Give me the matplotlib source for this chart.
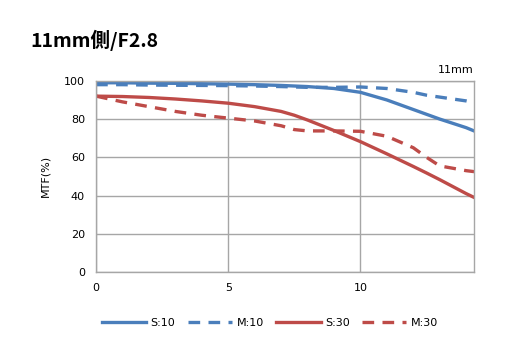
import matplotlib.pyplot as plt

plt.rcParams['font.family'] = ['DejaVu Sans']

# image height (mm) vs MTF (%)
x_pts = [0, 1, 2, 3, 4, 5, 6, 7, 7.5, 8, 9, 10, 11, 12, 12.5, 13, 14, 14.3]
s10 = [99, 99, 98.8, 98.7, 98.5, 98.3, 98, 97.6, 97.3, 97, 96, 94, 90, 85, 82.5, 80, 75.5, 73.8]
m10 = [98, 98, 97.8, 97.7, 97.6, 97.5, 97.3, 97, 96.8, 96.6, 96.6, 96.8, 96, 94, 92.5, 91.5, 89.5, 88.6]
s30 = [92, 91.8, 91.3, 90.5, 89.5, 88.3, 86.5, 84, 82, 79.5, 74, 68.2, 61.8, 55.2, 51.8, 48.3, 41, 39]
m30 = [92, 89, 86.5, 84, 82, 80.5, 79, 76.5, 74.5, 73.8, 73.8, 73.6, 71, 65, 60, 55.5, 53, 52.5]

series = [
    ("S:10", s10, "#4a7ebb", "-"),
    ("M:10", m10, "#4a7ebb", (0, (3.5, 2.5))),
    ("S:30", s30, "#be4b48", "-"),
    ("M:30", m30, "#be4b48", (0, (3.5, 2.5))),
]

fig = plt.figure(figsize=(5.25, 3.5), dpi=100)
ax = fig.add_axes([0.183, 0.223, 0.72, 0.546])

for name, vals, color, ls in series:
    ax.plot(x_pts, vals, color=color, linestyle=ls, linewidth=2.4, label=name)

ax.set_xlim(0, 14.3)
ax.set_ylim(0, 100)
ax.set_xticks([0, 5, 10])
ax.set_yticks(range(0, 101, 20))
ax.grid(True, color="#a6a6a6", linewidth=1)
ax.set_axisbelow(True)
for sp in ax.spines.values():
    sp.set_color("#a6a6a6")
    sp.set_linewidth(1)
ax.tick_params(length=0, labelsize=8, pad=8)
ax.set_ylabel("MTF(%)", fontsize=8, labelpad=10)

ax.text(1.0, 1.03, "11mm", transform=ax.transAxes, ha="right", va="bottom", fontsize=8)

fig.text(0.057, 0.885, "11mm側/F2.8", fontsize=14, fontweight="bold",
         family=["Noto Sans CJK JP", "DejaVu Sans"], va="center")

ax.legend(loc="upper center", bbox_to_anchor=(0.46, -0.19), ncol=4, frameon=False,
          fontsize=8, handlelength=4, columnspacing=1.1, handletextpad=0.4)

fig.savefig("out.png", dpi=100, facecolor="white")
